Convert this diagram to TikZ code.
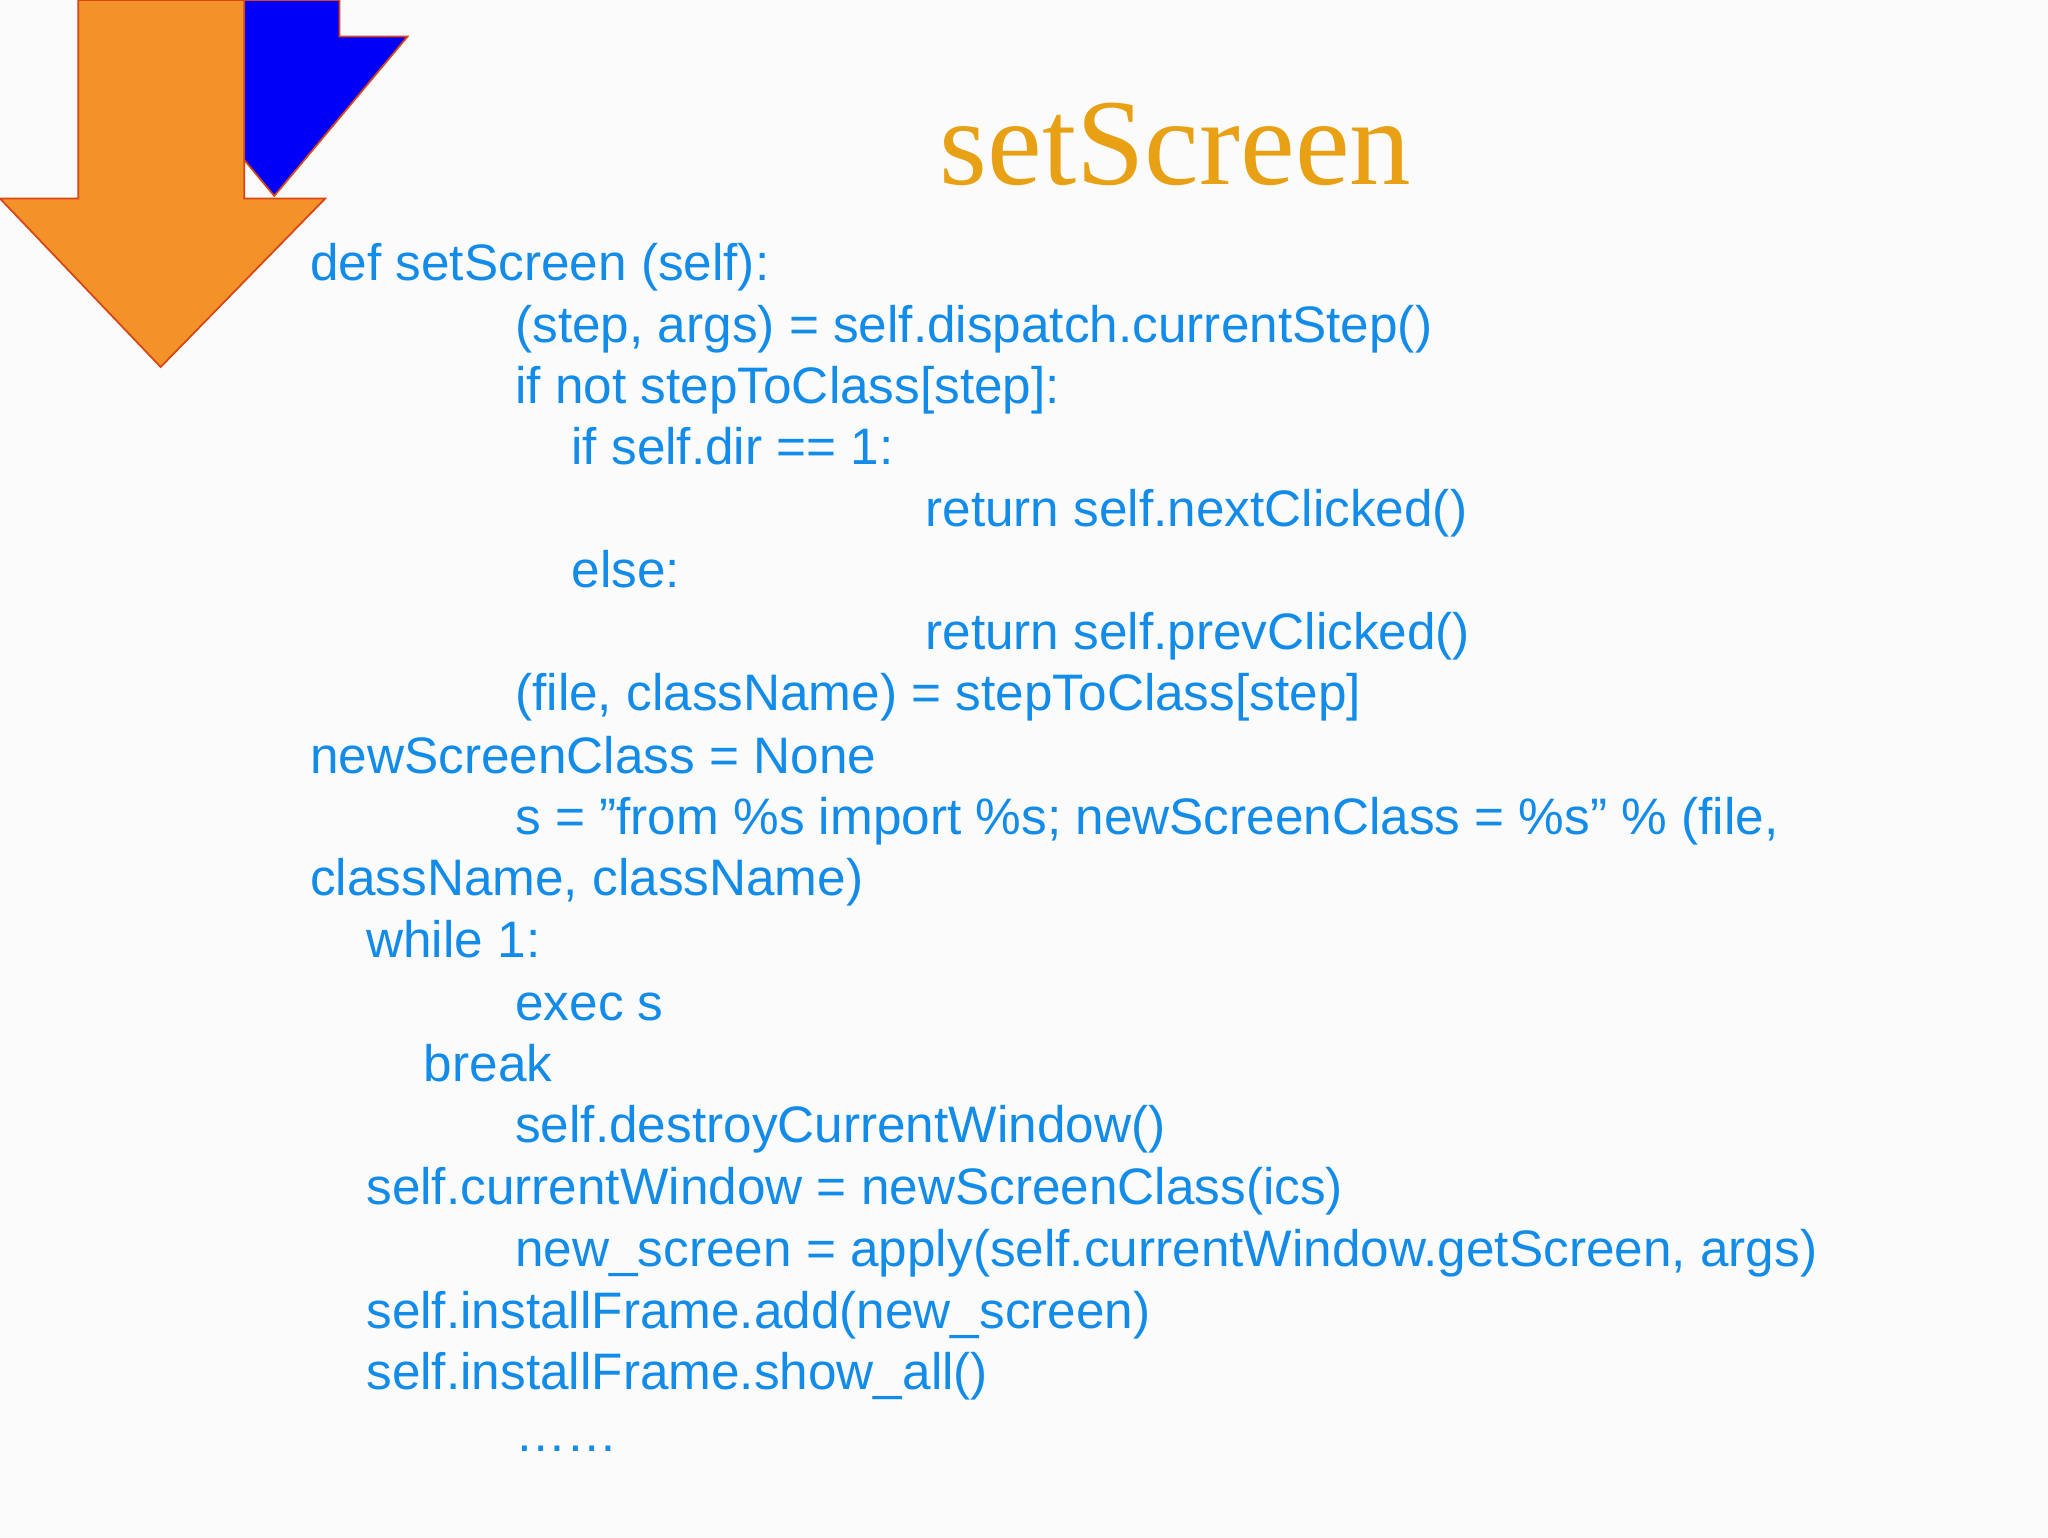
\documentclass[tikz,border=0pt]{standalone}
\usepackage{fontspec}
\setmainfont{Liberation Sans}
\newfontfamily\titlefont{Liberation Serif}
\definecolor{code}{RGB}{18,140,232}
\definecolor{ttl}{RGB}{232,160,20}
\definecolor{org}{RGB}{243,146,40}
\definecolor{orgl}{RGB}{215,70,20}
\definecolor{blu}{RGB}{0,0,250}
\definecolor{bg}{RGB}{251,251,251}
\begin{document}
\begin{tikzpicture}[x=0.013061cm,y=-0.013061cm,
  ln/.style={anchor=base west,inner sep=0,text=code,font=\fontsize{14.6pt}{17pt}\selectfont}]
\fill[bg] (0,0) rectangle (1568,1177);
\useasboundingbox (0,0) rectangle (1568,1177);
\draw[fill=blu,draw=orgl,line width=0.5pt] (160,0) -- (260,0) -- (260,28) -- (312,28) -- (210,150) -- (108,28) -- (160,28) -- cycle;
\draw[fill=org,draw=orgl,line width=0.5pt] (60,0) -- (187,0) -- (187,152) -- (249,152) -- (123,281) -- (0,152) -- (60,152) -- cycle;
\node[anchor=base,text=ttl,font=\titlefont\fontsize{35pt}{40pt}\selectfont] (title) at (900,141) {setScreen};
\node[ln] (l1) at (237,215) {def setScreen (self):};
\node[ln] (l2) at (394,262) {(step, args) = self.dispatch.currentStep()};
\node[ln] (l3) at (394,309) {if not stepToClass[step]:};
\node[ln] (l4) at (437,356) {if self.dir == 1:};
\node[ln] (l5) at (708,403) {return self.nextClicked()};
\node[ln] (l6) at (437,450) {else:};
\node[ln] (l7) at (708,497) {return self.prevClicked()};
\node[ln] (l8) at (394,544) {(file, className) = stepToClass[step]};
\node[ln] (l9) at (237,592) {newScreenClass = None};
\node[ln] (l10) at (394,639) {s = "from \%s import \%s; newScreenClass = \%s" \% (file,};
\node[ln] (l11) at (237,686) {className, className)};
\node[ln] (l12) at (280,733) {while 1:};
\node[ln] (l13) at (394,781) {exec s};
\node[ln] (l14) at (324,828) {break};
\node[ln] (l15) at (394,875) {self.destroyCurrentWindow()};
\node[ln] (l16) at (280,922) {self.currentWindow = newScreenClass(ics)};
\node[ln] (l17) at (394,970) {new\_screen = apply(self.currentWindow.getScreen, args)};
\node[ln] (l18) at (280,1017) {self.installFrame.add(new\_screen)};
\node[ln] (l19) at (280,1064) {self.installFrame.show\_all()};
\node[ln] (l20) at (394,1111) {……};
\end{tikzpicture}
\end{document}
